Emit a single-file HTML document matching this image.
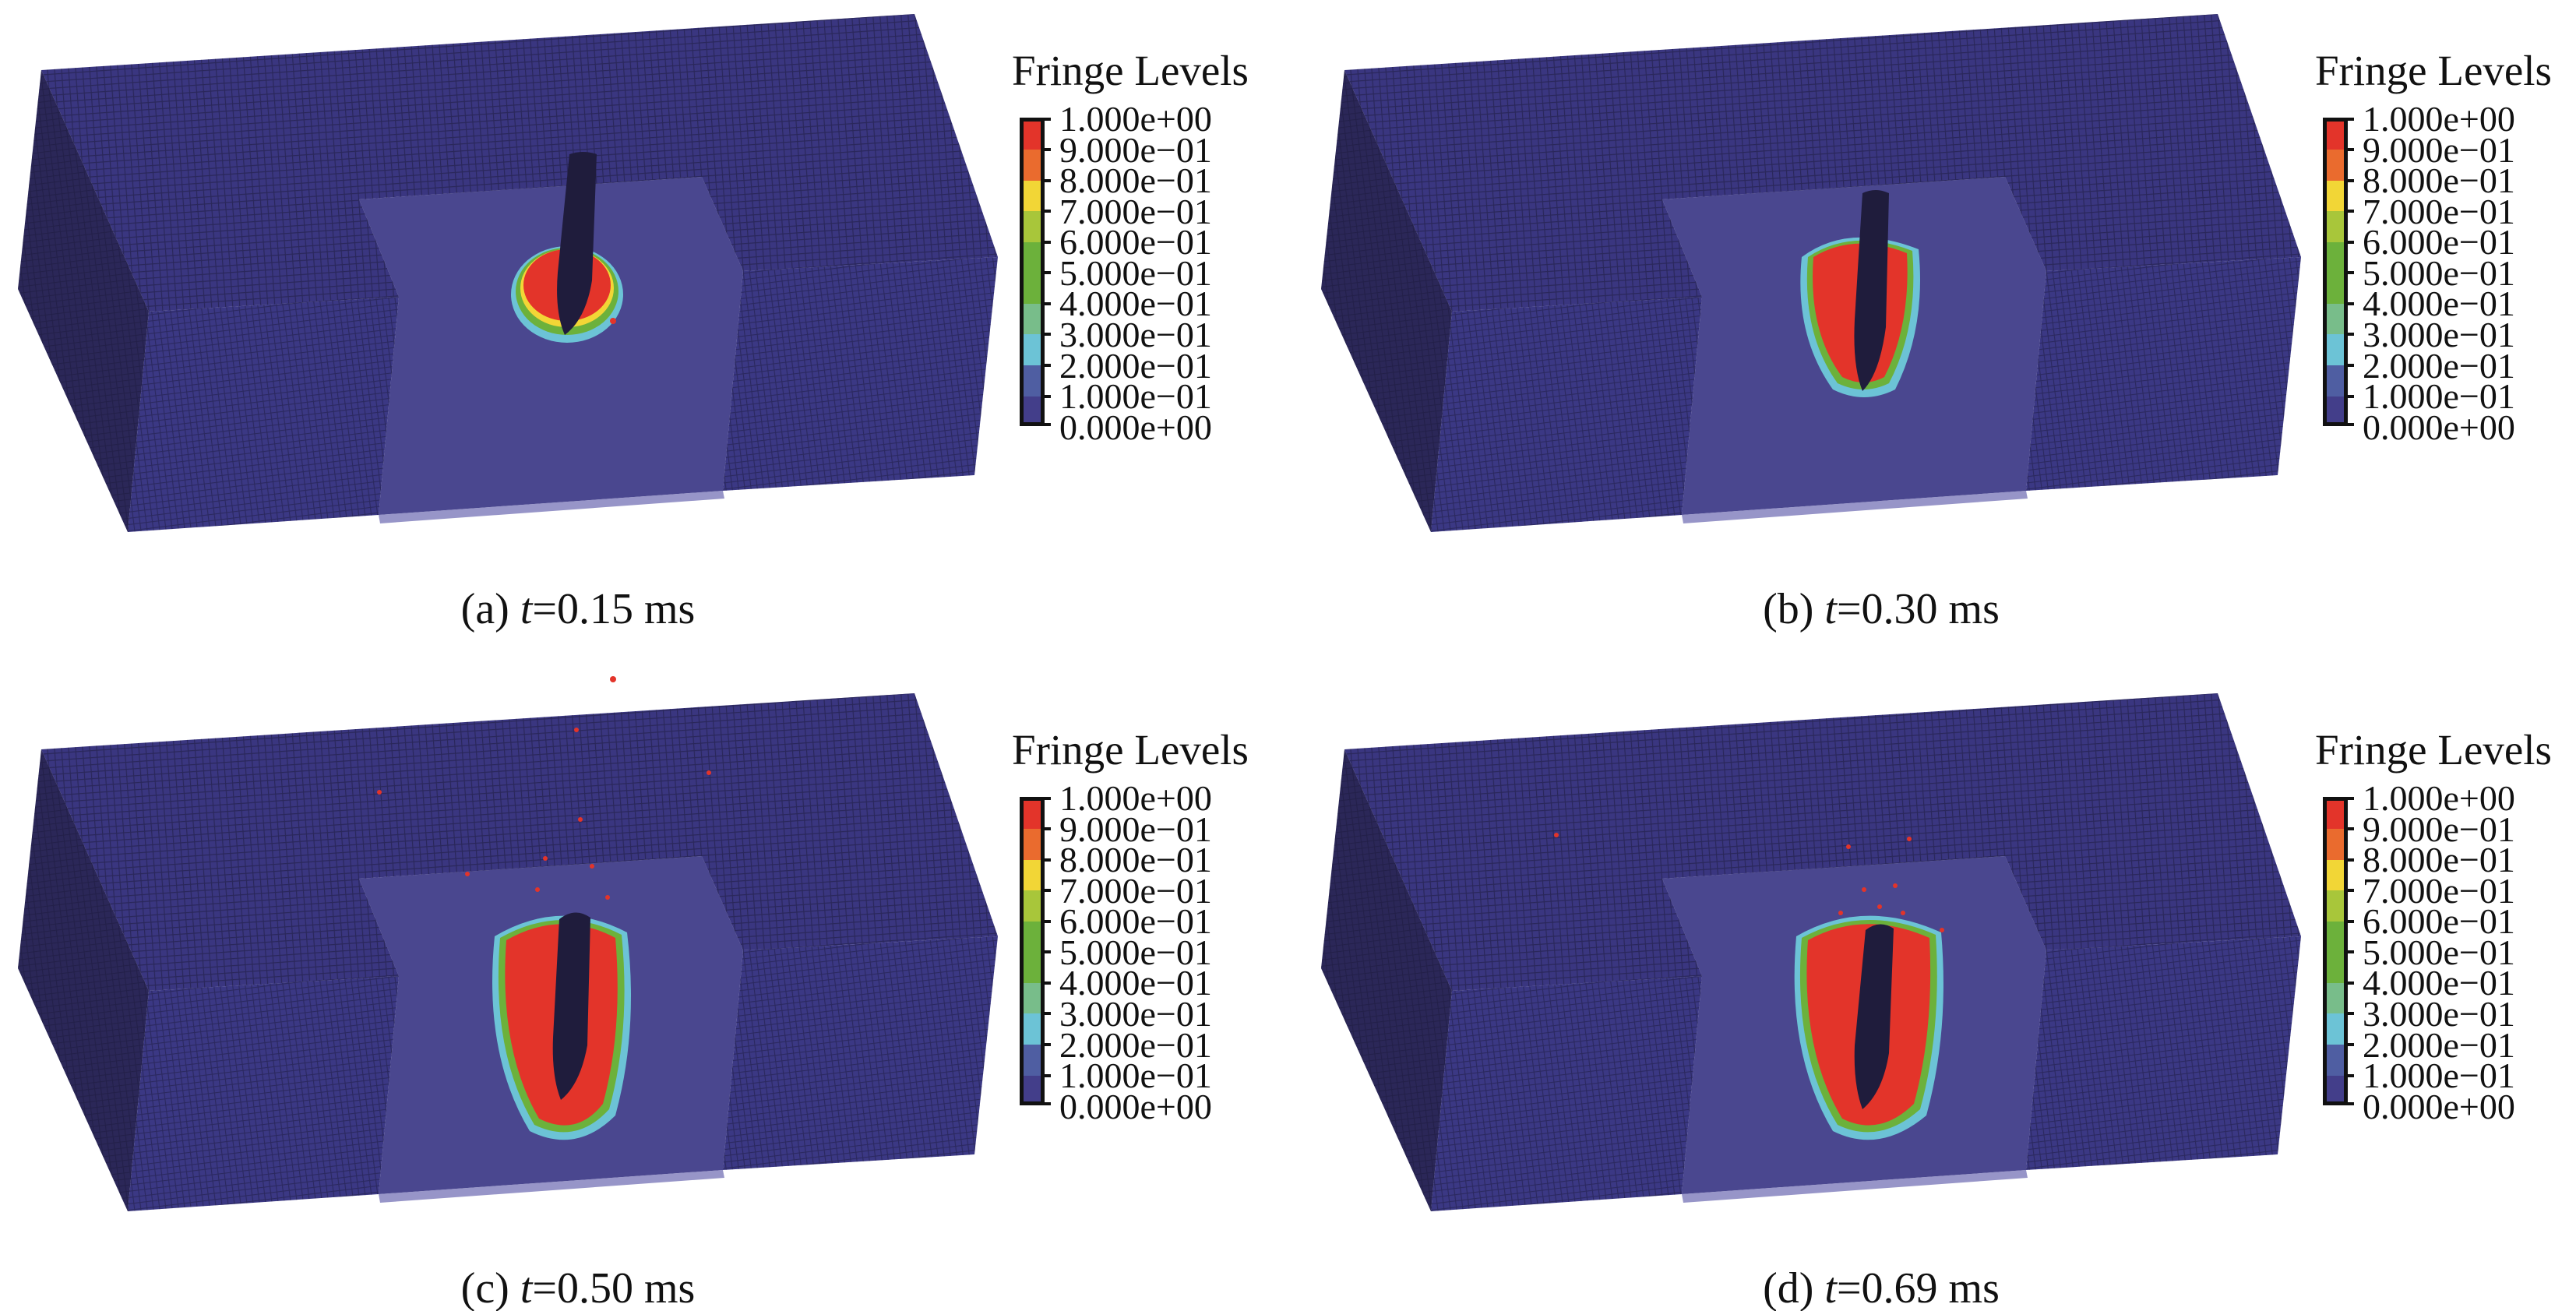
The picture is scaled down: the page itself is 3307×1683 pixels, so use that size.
<!DOCTYPE html>
<html><head><meta charset="utf-8"><style>
html,body{margin:0;padding:0;background:#fff;}
svg{display:block;}
text{font-family:"Liberation Serif",serif;fill:#111;}
</style></head><body>
<svg width="3307" height="1683" viewBox="0 0 3307 1683" xmlns="http://www.w3.org/2000/svg">
<defs>
<pattern id="mesh" width="9" height="9" patternUnits="userSpaceOnUse" patternTransform="rotate(-4)">
<rect width="9" height="9" fill="none"/>
<path d="M0 0.5H9M0.5 0V9" stroke="#1c1a3c" stroke-width="1.4" opacity="0.55"/>
</pattern>
<pattern id="mesh2" width="8" height="8" patternUnits="userSpaceOnUse" patternTransform="rotate(-7)">
<path d="M0 0.5H8M0.5 0V8" stroke="#1c1a3c" stroke-width="1.3" opacity="0.5"/>
</pattern>
<g id="box">
<!-- gap (back wall + floor) -->
<polygon points="461,256 901,227 954,348 928,630 486,661 512,381" fill="#4a478f"/>
<polygon points="486,661 928,630 930,640 488,672" fill="#6b68b0" opacity="0.7"/>
<!-- top face -->
<polygon points="53,90 1174,18 1281,330 954,348 901,227 461,256 512,381 191,400" fill="#3a3680"/>
<polygon points="53,90 1174,18 1281,330 954,348 901,227 461,256 512,381 191,400" fill="url(#mesh)"/>
<!-- left face -->
<polygon points="53,90 191,400 164,683 23,371" fill="#2b2758"/>
<polygon points="53,90 191,400 164,683 23,371" fill="url(#mesh2)"/>
<!-- left block front -->
<polygon points="191,400 512,381 486,661 164,683" fill="#3b3884"/>
<polygon points="191,400 512,381 486,661 164,683" fill="url(#mesh2)"/>
<!-- right block front -->
<polygon points="954,348 1281,330 1251,610 928,630" fill="#3b3884"/>
<polygon points="954,348 1281,330 1251,610 928,630" fill="url(#mesh2)"/>
</g>
<g id="legend">
<text x="1299" y="109" font-size="55">Fringe Levels</text>
<rect x="1309" y="151" width="32" height="396" fill="#111"/>
<rect x="1314" y="156" width="22" height="36" fill="#e3342a"/>
<rect x="1314" y="192" width="22" height="40" fill="#ea6b2e"/>
<rect x="1314" y="232" width="22" height="39" fill="#f2d636"/>
<rect x="1314" y="271" width="22" height="40" fill="#a8c63a"/>
<rect x="1314" y="311" width="22" height="79" fill="#6cb13b"/>
<rect x="1314" y="390" width="22" height="39" fill="#78bd8a"/>
<rect x="1314" y="429" width="22" height="40" fill="#6cc3d6"/>
<rect x="1314" y="469" width="22" height="40" fill="#4f5ea2"/>
<rect x="1314" y="509" width="22" height="33" fill="#433e8a"/>
<g stroke="#111" stroke-width="4">
<path d="M1341 153h8M1341 192h8M1341 232h8M1341 271h8M1341 311h8M1341 350h8M1341 390h8M1341 429h8M1341 469h8M1341 509h8M1341 545h8"/>
</g>
<g font-size="46">
<text x="1360" y="168">1.000e+00</text>
<text x="1360" y="208">9.000e−01</text>
<text x="1360" y="247">8.000e−01</text>
<text x="1360" y="287">7.000e−01</text>
<text x="1360" y="326">6.000e−01</text>
<text x="1360" y="366">5.000e−01</text>
<text x="1360" y="405">4.000e−01</text>
<text x="1360" y="445">3.000e−01</text>
<text x="1360" y="485">2.000e−01</text>
<text x="1360" y="524">1.000e−01</text>
<text x="1360" y="564">0.000e+00</text>
</g>
</g>
</defs>

<!-- Panel a -->
<g>
<use href="#box"/>
<ellipse cx="728" cy="378" rx="72" ry="62" fill="#6cc3d6"/>
<ellipse cx="728" cy="374" rx="66" ry="56" fill="#6cb13b"/>
<ellipse cx="728" cy="370" rx="60" ry="50" fill="#f2d636"/>
<ellipse cx="728" cy="366" rx="56" ry="46" fill="#e3342a"/>
<path d="M731 198 Q748 192 766 198 L760 360 Q752 410 725 430 Q712 400 716 350 Z" fill="#1f1c3c"/>
<use href="#legend"/>
<text x="742" y="800" font-size="56" text-anchor="middle">(a) <tspan font-style="italic">t</tspan>=0.15 ms</text>
</g>

<!-- Panel b -->
<g transform="translate(1673,0)">
<use href="#box"/>
<path d="M640 330 Q700 285 790 320 Q800 420 760 500 Q720 520 680 500 Q630 430 640 330Z" fill="#6cc3d6"/>
<path d="M648 330 Q705 292 782 322 Q790 420 752 492 Q720 508 686 492 Q640 428 648 330Z" fill="#6cb13b"/>
<path d="M655 330 Q708 298 775 325 Q780 418 746 484 Q720 498 692 484 Q648 425 655 330Z" fill="#e3342a"/>
<path d="M718 248 Q735 240 752 248 L748 420 Q740 480 718 502 Q705 470 708 410 Z" fill="#1f1c3c"/>
<use href="#legend"/>
<text x="742" y="800" font-size="56" text-anchor="middle">(b) <tspan font-style="italic">t</tspan>=0.30 ms</text>
</g>

<!-- Panel c -->
<g transform="translate(0,872)">
<use href="#box"/>
<path d="M635 330 Q720 280 805 325 Q820 450 790 560 Q740 610 680 580 Q620 480 635 330Z" fill="#6cc3d6"/>
<path d="M642 332 Q720 288 798 328 Q810 450 782 552 Q740 598 686 572 Q630 478 642 332Z" fill="#6cb13b"/>
<path d="M650 335 Q720 295 790 332 Q800 450 774 545 Q740 588 692 564 Q640 475 650 335Z" fill="#e3342a"/>
<path d="M718 308 Q738 292 758 306 L754 470 Q745 520 720 540 Q708 510 710 460 Z" fill="#1f1c3c"/>
<g fill="#e3342a">
<circle cx="787" cy="-460" r="4" transform="translate(0,0)"/>
<circle cx="740" cy="65" r="3"/><circle cx="910" cy="120" r="3"/><circle cx="487" cy="145" r="3"/>
<circle cx="745" cy="180" r="3"/><circle cx="700" cy="230" r="3"/><circle cx="760" cy="240" r="3"/>
<circle cx="690" cy="270" r="3"/><circle cx="780" cy="280" r="3"/><circle cx="600" cy="250" r="3"/>
</g>
<use href="#legend"/>
<text x="742" y="800" font-size="56" text-anchor="middle">(c) <tspan font-style="italic">t</tspan>=0.50 ms</text>
</g>
<circle cx="787" cy="872" r="4" fill="#e3342a"/>

<!-- Panel d -->
<g transform="translate(1673,872)">
<use href="#box"/>
<path d="M633 330 Q720 280 819 325 Q830 450 800 560 Q740 610 680 580 Q620 480 633 330Z" fill="#6cc3d6"/>
<path d="M640 332 Q720 288 812 328 Q820 450 792 552 Q740 598 686 572 Q628 478 640 332Z" fill="#6cb13b"/>
<path d="M648 335 Q720 295 804 332 Q810 450 784 545 Q740 588 692 564 Q638 475 648 335Z" fill="#e3342a"/>
<path d="M722 322 Q740 308 758 320 L752 480 Q744 530 718 552 Q706 520 708 470 Z" fill="#1f1c3c"/>
<g fill="#e3342a">
<circle cx="325" cy="200" r="3"/><circle cx="700" cy="215" r="3"/><circle cx="778" cy="205" r="3"/>
<circle cx="720" cy="270" r="3"/><circle cx="760" cy="265" r="3"/><circle cx="690" cy="300" r="3"/>
<circle cx="770" cy="300" r="3"/><circle cx="740" cy="292" r="3"/><circle cx="820" cy="322" r="3"/>
</g>
<use href="#legend"/>
<text x="742" y="800" font-size="56" text-anchor="middle">(d) <tspan font-style="italic">t</tspan>=0.69 ms</text>
</g>
</svg>
</body></html>
